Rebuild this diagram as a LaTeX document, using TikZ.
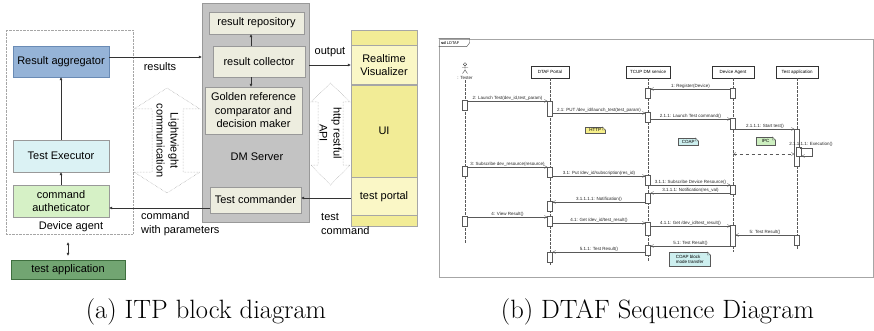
\documentclass[tikz,border=0pt]{standalone}
\usepackage{fontspec}
\setsansfont{Liberation Sans}
\usetikzlibrary{arrows.meta,positioning}

\definecolor{aggfill}{HTML}{95B3D7}
\definecolor{aggline}{HTML}{6A8BB5}
\definecolor{execfill}{HTML}{DBF2F4}
\definecolor{authfill}{HTML}{D6F1C6}
\definecolor{appfill}{HTML}{72A572}
\definecolor{appline}{HTML}{3F6F3F}
\definecolor{dmfill}{HTML}{C3C3C3}
\definecolor{subfill}{HTML}{EDEDDF}
\definecolor{ylw}{HTML}{F2EC96}
\definecolor{ylwlight}{HTML}{FAF7C6}
\definecolor{notey}{HTML}{F7F08A}
\definecolor{notec}{HTML}{CDEFEF}
\definecolor{noteg}{HTML}{CDEFC0}

\begin{document}
\begin{tikzpicture}[x=1pt, y=-1pt,
    node distance=0pt,
    box/.style={draw=gray!80, align=center, inner sep=1pt,
        font=\sffamily\fontsize{11}{13.5}\selectfont},
    col/.style={draw=gray!70, minimum width=66pt, inner sep=0pt, align=center,
        font=\sffamily\fontsize{11}{13}\selectfont},
    arr/.style={-{Latex[length=3pt,width=3pt]}, draw=gray!40!black, line width=0.5pt},
    hollow/.style={draw=gray!70, densely dotted, line width=0.5pt},
    txt/.style={font=\sffamily\fontsize{11}{14}\selectfont, align=left, inner sep=0pt},
    head/.style={draw=black!80, fill=white, line width=0.6pt, minimum height=12pt,
        font=\sffamily\fontsize{4.5}{5}\selectfont, inner sep=1pt},
    act/.style={draw=gray!70!black, fill=white, line width=0.4pt, minimum width=5pt, inner sep=0pt},
    life/.style={draw=gray!70!black, dash pattern=on 2.5pt off 1.5pt, line width=0.4pt},
    msg/.style={-{Straight Barb[length=2.5pt,width=3pt]}, draw=gray!70!black, line width=0.4pt},
    lbl/.style={font=\sffamily\fontsize{4.5}{5}\selectfont, inner sep=0.6pt, text=black!85},
    note/.style={draw=gray!70!black, line width=0.3pt, anchor=north west, align=left,
        inner sep=1pt, font=\sffamily\fontsize{4.5}{5}\selectfont},
    captext/.style={font=\fontsize{26.5}{30}\selectfont, inner sep=0pt}
]
\useasboundingbox (0,0) rectangle (874,331);

% (a) ITP block diagram
\node[draw=gray!70, densely dotted, minimum width=127pt, minimum height=204pt] (agent) at (69.5,132) {};
\node[box, fill=aggfill, draw=aggline, minimum width=96pt, minimum height=31pt] (agg) at (61,61.5) {Result aggregator};
\node[box, fill=execfill, minimum width=96pt, minimum height=32pt] (exec) at (61,156) {Test Executor};
\node[box, fill=authfill, minimum width=96pt, minimum height=32pt] (auth) at (61,201) {command\\autheticator};
\node[txt] (agentlbl) at (71,227) {Device agent};
\node[box, fill=appfill, draw=appline, minimum width=114pt, minimum height=19pt] (testapp) at (68,269.5) {test application};

\node[box, fill=dmfill, minimum width=107pt, minimum height=219pt] (dm) at (255.5,112.5) {};
\node[box, fill=subfill, minimum width=95pt, minimum height=22pt] (repo) at (256.5,23) {result repository};
\node[box, fill=subfill, minimum width=92pt, minimum height=31pt] (coll) at (259,61.5) {result collector};
\node[box, fill=subfill, minimum width=97pt, minimum height=47pt] (gold) at (253.5,110.5) {Golden reference\\comparator and\\decision maker};
\node[txt] (dmlbl) at (257,157) {DM Server};
\node[box, fill=subfill, minimum width=91pt, minimum height=26pt] (cmdr) at (255.5,200) {Test commander};

\node[col, fill=ylw, minimum height=15pt] (ytop) at (384,37.5) {};
\node[col, fill=ylwlight, minimum height=39pt, below=of ytop] (vis) {Realtime\\Visualizer};
\node[col, fill=ylw, minimum height=92pt, below=of vis] (ui) {UI};
\node[col, fill=ylwlight, minimum height=38pt, below=of ui] (portal) {test portal};
\node[col, fill=ylw, minimum height=11pt, below=of portal] (ybot) {};

% hollow arrows
\draw[hollow] (167,88) -- (200,109) -- (183,109) -- (183,172) -- (200,172) -- (167,193)
    -- (134,172) -- (152,172) -- (152,109) -- (134,109) -- cycle;
\node[txt, align=center, rotate=-90] (lwc) at (167.5,140.5) {Lightwieght\\communication};
\draw[hollow] (330.5,83) -- (350,102) -- (343,102) -- (343,165) -- (350,165) -- (330.5,185)
    -- (311,165) -- (318,165) -- (318,102) -- (311,102) -- cycle;
\node[txt, align=center, rotate=-90] (api) at (330.5,133) {http restful\\API};

\draw[arr] (agg.east |- 0,57) -- (dm.west |- 0,57);
\node[txt] (reslbl) at (160,67) {results};
\draw[arr] (exec) -- (agg);
\draw[arr] (auth) -- (exec);
\draw[arr] (cmdr.west |- 0,208) -- (auth.east |- 0,208);
\node[txt, anchor=west] (cmdlbl) at (141,224) {command\\with parameters};
\draw[arr, {Latex[length=3pt,width=3pt]}-{Latex[length=3pt,width=3pt]}, shorten <=8pt, shorten >=4pt]
    (testapp.north |- agent.south) -- (testapp.north);
\draw[arr] (coll.north -| 251,0) -- (repo.south -| 251,0);
\draw[arr] (coll.south -| 251,0) -- (gold.north -| 251,0);
\draw[arr] (dm.east |- 0,65) -- (vis.west |- 0,65);
\node[txt] (outlbl) at (330,52) {output};
\draw[arr] (portal.west |- 0,198) -- (cmdr.east |- 0,198);
\node[txt, anchor=west] (tclbl) at (321,224) {test\\command};

% (b) DTAF sequence diagram
\node[draw=gray!70, line width=0.6pt, minimum width=434pt, minimum height=238pt] (frame) at (656,158) {};
\draw[gray!60!black, line width=0.4pt] (frame.north west) -- ++(31,0) -- ++(0,4) -- ++(-3,4) -- ++(-28,0);
\node[anchor=west, inner sep=0pt, font=\sffamily\fontsize{4}{5}\selectfont] (sdlbl) at (441,43) {\textbf{sd} LDTAF};

% lifelines
\node[lbl] (tester) at (465,78) {: Tester};
\draw[black!70, line width=0.4pt] (465,64.3) circle (1.7pt);
\draw[black!70, line width=0.4pt] (465,66) -- (465,70) (462,67.5) -- (468,67.5)
    (462.5,73.5) -- (465,70) -- (467.5,73.5);
\node[head, minimum width=38pt] (dtaf) at (550,72) {DTAF Portal};
\node[head, minimum width=44pt] (tcup) at (648,72) {TCUP DM service};
\node[head, minimum width=42pt] (dagent) at (733,72) {Device Agent};
\node[head, minimum width=42pt] (tapp) at (797,72) {Test application};
\coordinate (testerend) at (465,243);
\coordinate (dtafend) at (550,266);
\coordinate (tcupend) at (648,261);
\coordinate (dagentend) at (733,252);
\coordinate (tappend) at (797,249);
\draw[life] (tester.south) -- (testerend);
\draw[life] (dtaf.south) -- (dtafend);
\draw[life] (tcup.south) -- (tcupend);
\draw[life] (dagent.south) -- (dagentend);
\draw[life] (tapp.south) -- (tappend);

% activations
\foreach \n/\x/\a/\b in {t1/465/100/110, t2/465/166/176, t3/465/216/226,
    p1/550/101/116, p2/550/167/177, p3/550/201/211, p4/550/216/226, p5/550/252/262,
    c1/648/88/98, c2/648/112/122, c3/648/175/185, c4/648/193/203, c5/648/222/235, c6/648/245/255,
    d1/733/88/98, d2/733/118/129, d3/733/185/194, d4/733/225/246,
    e1/797/129/166, e2/797/235/245}
    \node[act, minimum height={(\b-\a)*1pt}] (\n) at (\x,{(\a+\b)/2}) {};
\node[act, minimum height=9pt] (e1b) at (799,152) {};

% messages
\draw[msg] (d1.west |- 0,89) -- (c1.east |- 0,89) node[lbl, midway, above] (m1) {1: Register(Device)};
\draw[msg] (t1.east |- 0,101) -- (p1.west |- 0,101) node[lbl, midway, above] (m2) {2: Launch Test(dev\_id,test\_param)};
\draw[msg] (p1.east |- 0,113) -- (c2.west |- 0,113) node[lbl, midway, above] (m3) {2.1: PUT /dev\_id/launch\_test(test\_param)};
\draw[msg] (c2.east |- 0,119) -- (d2.west |- 0,119) node[lbl, midway, above] (m4) {2.1.1: Launch Test command()};
\draw[msg] (d2.east |- 0,129) -- (e1.west |- 0,129) node[lbl, midway, above] (m5) {2.1.1.1: Start test()};
\draw[msg] (e1.east |- 0,148) -- ++(12,0) -- ++(0,8) -- (e1b.east |- 0,156);
\node[lbl] (m6) at (811,144.5) {2.1.1.1.1: Execution()};
\draw[msg, {Straight Barb[length=2.5pt,width=3pt]}-{Straight Barb[length=2.5pt,width=3pt]}, dashed]
    (dagent |- 0,154) -- (e1.west |- 0,154);
\draw[msg] (t2.east |- 0,167) -- (p2.west |- 0,167) node[lbl, midway, above] (m8) {3: Subscribe dev\_resource(resource)};
\draw[msg] (p2.east |- 0,176) -- (c3.west |- 0,176) node[lbl, midway, above] (m9) {3.1: Put /dev\_id/subscription(res\_id)};
\draw[msg] (c3.east |- 0,185) -- (d3.west |- 0,185) node[lbl, midway, above] (m10) {3.1.1: Subscribe Device Resource()};
\draw[msg] (d3.west |- 0,193) -- (c4.east |- 0,193) node[lbl, midway, above] (m11) {3.1.1.1: Notification(res\_val)};
\draw[msg] (c4.west |- 0,202) -- (p3.east |- 0,202) node[lbl, midway, above] (m12) {3.1.1.1.1: Notification()};
\draw[msg] (t3.east |- 0,217) -- (p4.west |- 0,217) node[lbl, midway, above] (m13) {4: View Result()};
\draw[msg] (p4.east |- 0,223) -- (c5.west |- 0,223) node[lbl, midway, above] (m14) {4.1: Get /dev\_id/test\_result()};
\draw[msg] (c5.east |- 0,226) -- (d4.west |- 0,226) node[lbl, midway, above] (m15) {4.1.1: Get /dev\_id/test\_result()};
\draw[msg] (e2.west |- 0,235) -- (d4.east |- 0,235) node[lbl, midway, above] (m16) {5: Test Result()};
\draw[msg] (d4.west |- 0,246) -- (c6.east |- 0,246) node[lbl, midway, above] (m17) {5.1: Test Result()};
\draw[msg] (c6.west |- 0,252) -- (p5.east |- 0,252) node[lbl, midway, above] (m18) {5.1.1: Test Result()};

% notes
\node[note, fill=notey, minimum width=20pt, minimum height=6.5pt] (http) at (585,127) {HTTP};
\node[note, fill=notec, minimum width=20pt, minimum height=7pt] (coap) at (678,138) {COAP};
\node[note, fill=noteg, minimum width=19pt, minimum height=8pt] (ipc) at (756,137) {IPC};
\node[note, fill=notec, minimum width=41pt, minimum height=14pt] (coapblk) at (669,252) {COAP block\\mode transfer};
\foreach \n in {http,coap,ipc,coapblk} {
    \fill[white] ([xshift=-3pt,yshift=0.5pt]\n.north east) -- ([xshift=0.5pt,yshift=0.5pt]\n.north east)
        -- ([xshift=0.5pt,yshift=-3pt]\n.north east) -- cycle;
    \draw[gray!70!black, line width=0.3pt] ([xshift=-3pt]\n.north east) -- ([yshift=-3pt]\n.north east)
        -- ([xshift=-3pt,yshift=-3pt]\n.north east) -- cycle;
}

% captions
\node[captext] (capa) at (206,312) {(a) ITP block diagram};
\node[captext] (capb) at (657.5,312) {(b) DTAF Sequence Diagram};
\end{tikzpicture}
\end{document}
